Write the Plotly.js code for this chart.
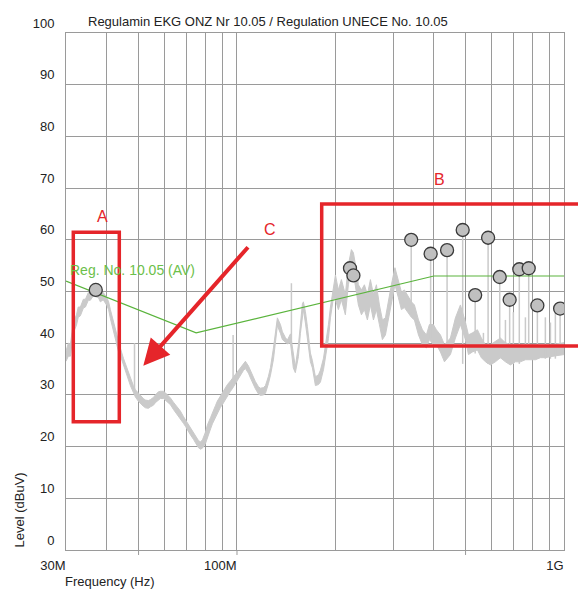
<!DOCTYPE html>
<html>
<head>
<meta charset="utf-8">
<script src="https://cdn.plot.ly/plotly-3.0.1.min.js"></script>
<style>html,body{margin:0;padding:0;background:#fff;}#chart{width:578px;height:590px;}</style>
</head>
<body>
<div id="chart"></div>
<script>
// ---- data (frequency in MHz, level in dBuV) ----
const scanFreq = [30.0,30.5,30.95,31.6,32.3,32.7,33.2,33.9,34.4,35.1,35.6,36.4,36.9,37.7,38.2,39.0,40.0,40.5,41.0,41.9,42.5,43.4,44.0,45.0,45.6,46.6,47.2,48.2,48.9,49.9,50.7,51.7,52.5,53.6,54.4,55.5,56.3,57.5,58.3,59.6,60.4,61.7,62.6,63.9,64.8,66.2,67.1,68.6,69.6,71.0,72.0,73.6,74.6,76.2,77.3,78.4,80.1,81.2,83.0,84.1,85.9,87.1,89.0,90.2,92.2,93.5,95.5,96.8,98.9,100.3,102.4,104.6,106.1,108.4,109.9,112.2,113.8,116.3,117.9,120.4,122.2,124.8,126.6,129.3,131.1,132.9,135.8,137.7,140.6,142.6,145.7,148.7,150.8,154.1,156.3,158.5,159.6,161.9,164.2,167.7,170.1,173.7,177.5,180.0,183.9,186.4,190.4,193.1,197.2,200.0,204.2,208.6,214.5,219.1,223.8,227.0,230.3,235.1,240.2,245.3,250.5,255.9,261.4,266.9,272.6,278.4,284.4,290.4,296.6,304.1,311.6,318.3,325.1,332.0,341.5,348.8,358.9,369.0,379.5,387.6,398.7,407.2,418.9,430.9,449.4,465.5,482.2,499.5,510.2,524.7,543.5,558.9,575.1,595.7,616.9,639.0,661.9,685.6,710.2,735.7,762.1,789.4,817.7,847.1,877.5,908.7,941.4,975.0,1000];
const scanUpper = [38.5,40.0,39.8,44.0,45.5,47.0,47.0,48.5,48.5,49.8,49.6,50.5,50.5,50.3,49.3,49.8,48.8,48.0,46.5,44.2,42.3,40.0,39.0,37.0,36.0,34.0,33.1,31.8,31.0,30.3,29.8,29.3,29.0,28.9,29.1,29.5,30.0,30.6,30.7,30.7,30.4,29.9,29.4,28.6,28.1,27.4,26.9,25.8,25.2,24.3,23.7,22.7,22.1,21.2,20.9,21.3,22.8,24.2,25.6,26.6,27.9,28.8,29.8,30.3,31.4,32.0,32.7,33.2,34.0,34.5,35.3,36.1,36.5,35.6,34.7,33.4,32.6,31.6,31.3,31.4,31.8,33.6,35.3,39.1,42.2,44.9,43.6,42.2,41.1,40.6,41.8,37.4,35.4,39.6,44.1,47.6,48.0,46.1,43.2,38.1,36.6,33.5,33.9,34.8,37.1,39.3,43.6,47.0,50.9,53.2,50.3,52.3,49.4,55.2,58.1,57.5,55.2,51.3,50.3,51.3,49.4,52.3,49.4,51.3,47.4,44.5,44.9,48.4,51.3,54.6,51.9,49.9,50.3,49.4,48.0,47.4,44.5,42.6,41.6,43.6,43.6,42.6,41.6,39.7,41.0,44.9,47.4,44.1,41.6,42.0,42.6,41.0,39.7,39.7,40.3,41.0,40.1,39.7,39.7,39.7,39.5,39.7,39.7,39.5,39.5,39.7,39.9,40.1,40.1];
const scanLower = [36.5,37.5,37.5,42.0,43.5,45.0,45.3,46.8,47.0,48.3,48.3,49.2,49.0,48.8,48.0,48.4,47.3,46.5,44.8,42.2,40.5,38.4,37.6,35.6,34.7,32.7,31.8,30.5,29.6,28.8,28.3,27.8,27.5,27.4,27.7,28.0,28.5,29.1,29.3,29.3,29.0,28.6,28.1,27.2,26.7,26.0,25.5,24.5,23.9,22.9,22.3,21.4,20.8,19.8,19.5,19.7,20.6,21.8,23.4,24.4,25.7,26.6,27.6,28.1,29.2,29.9,30.7,31.2,32.2,32.7,33.7,34.7,35.1,34.2,33.3,32.0,31.2,30.2,29.9,30.0,30.3,32.2,33.8,36.9,40.1,43.4,41.9,40.7,40.2,39.9,40.1,35.2,34.3,37.4,41.9,45.9,46.5,43.9,41.1,36.4,35.2,31.8,32.0,32.5,34.9,37.2,40.9,44.9,48.8,48.4,46.5,48.4,45.5,51.3,54.2,53.5,51.3,47.4,45.5,46.5,44.5,47.4,44.5,46.5,43.6,40.7,41.6,44.5,47.4,51.3,48.8,46.5,46.9,46.1,45.0,44.5,41.6,39.7,39.1,40.7,39.7,39.7,38.3,36.4,37.8,41.0,43.6,40.7,37.8,38.3,38.7,37.2,36.4,35.8,36.4,37.2,36.4,35.8,36.4,36.4,36.8,36.8,36.8,37.2,37.2,37.4,37.6,37.8,37.8];

const spikeFreq = [48.6,97.3,146.7,341,391,439,490,535,567,586,636,662,682,700,730,762,780,829,877,909,941,973];
const spikeTop  = [40.0,41.6,51.6,60.0,57.3,58.0,61.9,49.3,42.0,60.4,52.8,44.5,48.4,46.0,54.3,45.0,54.5,47.3,45.0,44.0,46.0,46.7];
const spikeBase = [31.0,33.0,40.0,46.0,41.0,38.0,36.0,38.0,37.0,36.0,37.0,37.0,36.0,36.0,36.0,37.0,37.0,37.0,37.0,37.0,37.0,38.0];

const peakFreq  = [37.0,221.6,227.0,341,391,439,490,535,586,636,682,730,780,829,973];
const peakLevel = [50.3,54.5,53.1,60.0,57.3,58.0,61.9,49.3,60.4,52.8,48.4,54.3,54.5,47.3,46.7];

const limitFreq  = [30,75,400,1000];
const limitLevel = [52,42,53,53];

const xTickVals = [30,40,50,60,70,80,90,100,200,300,400,500,600,700,800,900,1000];
const xTickText = ['30M','','','','','','','100M','','','','','','','','','1G'];
const xMarkTicks = [50,100,500];
const yTickVals = [0,10,20,30,40,50,60,70,80,90,100];

// ---- build ----
const spikeX = [], spikeY = [];
for (let i = 0; i < spikeFreq.length; i++) {
  spikeX.push(spikeFreq[i], spikeFreq[i], null);
  spikeY.push(spikeBase[i], spikeTop[i], null);
}
const gray = '#cacaca';
const red = '#e5252a';
const font = 'Liberation Sans, Arial, sans-serif';

const traces = [
  {x: scanFreq, y: scanLower, mode: 'lines', line: {color: gray, width: 1}, hoverinfo: 'skip', showlegend: false},
  {x: scanFreq, y: scanUpper, mode: 'lines', fill: 'tonexty', fillcolor: gray, line: {color: gray, width: 1}, hoverinfo: 'skip', showlegend: false},
  {x: spikeX, y: spikeY, mode: 'lines', line: {color: gray, width: 1.5}, hoverinfo: 'skip', showlegend: false},
  {x: limitFreq, y: limitLevel, mode: 'lines', line: {color: '#5ab43c', width: 1.2}, showlegend: false},
  {x: peakFreq, y: peakLevel, mode: 'markers', marker: {color: '#c0c0c0', size: 13, line: {color: '#3a3a3a', width: 1.3}}, showlegend: false}
];

const L = 66, W = 498, T = 33, H = 517;
const px = v => (v - L) / W;
const py = v => (T + H - v) / H;
const xLo = Math.log10(30), xHi = 3;
const xFrac = f => (Math.log10(f) - xLo) / (xHi - xLo);

const shapes = [
  {type: 'rect', xref: 'paper', yref: 'paper', x0: px(73.3), x1: px(119.3), y0: py(232.3), y1: py(421.7), line: {color: red, width: 3.5}, layer: 'above'},
  {type: 'rect', xref: 'paper', yref: 'paper', x0: px(321.7), x1: px(600), y0: py(204), y1: py(346), line: {color: red, width: 3.5}, layer: 'above'}
];
xMarkTicks.forEach(f => shapes.push({type: 'line', xref: 'paper', yref: 'paper', x0: xFrac(f), x1: xFrac(f), y0: 0, y1: -5 / H, line: {color: '#9a9a9a', width: 1}}));

const layout = {
  width: 578, height: 590,
  margin: {l: L, r: 578 - L - W, t: T, b: 590 - T - H},
  paper_bgcolor: '#fff', plot_bgcolor: '#fff',
  font: {family: font, size: 13, color: '#222'},
  title: {text: 'Regulamin EKG ONZ Nr 10.05 / Regulation UNECE No. 10.05', xref: 'paper', x: px(88), xanchor: 'left', yref: 'container', y: 1 - 21/590, yanchor: 'middle', font: {family: font, size: 13, color: '#222'}},
  xaxis: {type: 'log', range: [xLo, xHi], tickvals: xTickVals, ticktext: xTickText, ticks: '', showgrid: true, gridcolor: '#9a9a9a', gridwidth: 1, showline: true, linecolor: '#9a9a9a', linewidth: 1, mirror: true, zeroline: false, ticklabelposition: 'outside left', ticklabelstandoff: 3, tickfont: {size: 13, color: '#222'}},
  yaxis: {range: [0, 100], tickvals: yTickVals, ticks: '', showgrid: true, gridcolor: '#9a9a9a', gridwidth: 1, showline: true, linecolor: '#9a9a9a', linewidth: 1, mirror: true, zeroline: false, ticklabelshift: -10, ticklabelstandoff: 8, tickfont: {size: 13, color: '#222'}},
  shapes: shapes,
  annotations: [
    {text: 'Reg. No. 10.05 (AV)', xref: 'paper', yref: 'paper', x: px(68), y: py(270), xanchor: 'left', yanchor: 'middle', showarrow: false, font: {family: font, size: 14, color: '#6cc04a'}},
    {text: 'A', xref: 'paper', yref: 'paper', x: px(102), y: py(217), xanchor: 'center', yanchor: 'middle', showarrow: false, font: {family: font, size: 16, color: red}},
    {text: 'B', xref: 'paper', yref: 'paper', x: px(439), y: py(179), xanchor: 'center', yanchor: 'middle', showarrow: false, font: {family: font, size: 16, color: red}},
    {text: 'C', xref: 'paper', yref: 'paper', x: px(270), y: py(230), xanchor: 'center', yanchor: 'middle', showarrow: false, font: {family: font, size: 16, color: red}},
    {text: '', xref: 'paper', yref: 'paper', x: px(143.3), y: py(365.7), ax: 106, ay: -120, showarrow: true, arrowhead: 2, arrowsize: 1.3, arrowwidth: 4, arrowcolor: red, standoff: 0},
    {text: 'Frequency (Hz)', xref: 'paper', yref: 'paper', x: px(63), y: py(581), xanchor: 'left', yanchor: 'middle', showarrow: false, font: {family: font, size: 13, color: '#222'}},
    {text: 'Level (dBuV)', xref: 'paper', yref: 'paper', x: px(19), y: py(550), xanchor: 'center', yanchor: 'bottom', textangle: -90, showarrow: false, font: {family: font, size: 13, color: '#222'}}
  ]
};

Plotly.newPlot('chart', traces, layout, {displayModeBar: false, staticPlot: true});
</script>
</body>
</html>
